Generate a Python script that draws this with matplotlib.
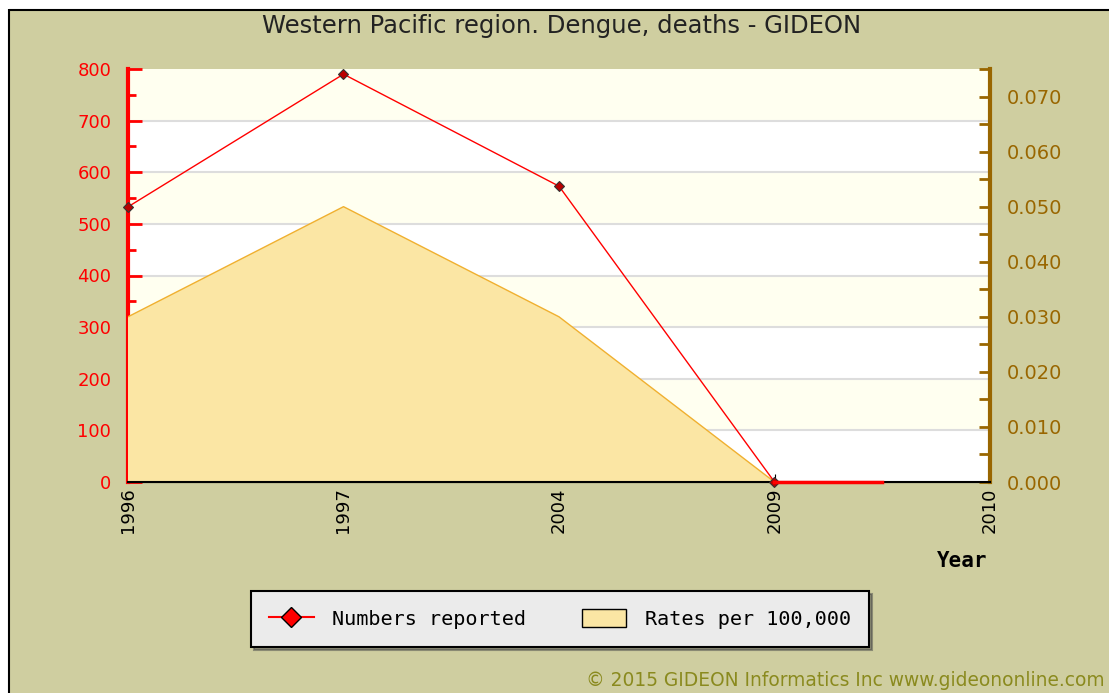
import matplotlib
matplotlib.use("Agg")
import matplotlib.pyplot as plt
from matplotlib.lines import Line2D
from matplotlib.patches import Patch, Rectangle

years = ["1996", "1997", "2004", "2009", "2010"]
numbers_reported = [533, 790, 573, 0]
rates_per_100k = [0.030, 0.050, 0.030, 0.0]
tail_pos = [3, 3.5]
tail_vals = [0, 0]

BG = "#cfcea0"
RED = "#ff0000"
BROWN = "#996600"

W, H = 1109, 693
fig = plt.figure(figsize=(W / 100, H / 100), dpi=100)
fig.patch.set_facecolor(BG)
fig.patch.set_linewidth(0)
# white margin at top and left, with black border line
fig.add_artist(Rectangle((0, 1 - 9 / H), 1, 9 / H, transform=fig.transFigure,
                         facecolor="white", edgecolor="none", lw=0, zorder=-5))
fig.add_artist(Rectangle((0, 0), 8 / W, 1, transform=fig.transFigure,
                         facecolor="white", edgecolor="none", lw=0, zorder=-5))
fig.add_artist(Line2D([9 / W, 9 / W], [0, 1 - 9 / H], color="black", lw=1.5,
                      solid_capstyle="butt", transform=fig.transFigure))
fig.add_artist(Line2D([9 / W, 1.01], [1 - 10 / H, 1 - 10 / H], color="black", lw=1.5,
                      solid_capstyle="butt", transform=fig.transFigure))

ax = fig.add_axes([128 / W, 211 / H, 862 / W, 413 / H])
ax.set_facecolor("white")
x = list(range(len(years)))

# alternating background bands
for lo in range(0, 800, 100):
    if (lo // 100) % 2 == 1:
        ax.axhspan(lo, lo + 100, color="#fffff0", zorder=0, lw=0)
for g in range(100, 800, 100):
    ax.axhline(g, color="#dddddd", lw=1.5, zorder=0.5)

ax.set_xlim(0, 4)
ax.set_ylim(0, 800)

ax2 = ax.twinx()
ax2.set_ylim(0, 0.075)
ax2.fill_between(x[:len(rates_per_100k)], rates_per_100k, 0, color="#fbe6a4",
                 edgecolor="none", zorder=1)
ax2.plot(x[:len(rates_per_100k)], rates_per_100k, color="#f0b030", lw=1, zorder=2)

# numbers on top
ax3 = ax.twinx()
ax3.set_ylim(0, 800)
ax3.axis("off")
ax3.plot(x[:len(numbers_reported)], numbers_reported, color=RED, lw=1, zorder=3,
         marker="D", ms=5, mfc="#bb0000", mec="#333333", mew=0.8, clip_on=False)
ax3.plot(tail_pos, tail_vals, color=RED, lw=2.5, zorder=3, clip_on=False)

ax.set_xticks(x)
ax.set_xticklabels(years, rotation=90, fontsize=13)
ax.tick_params(axis="x", direction="in", length=6, color="black", pad=4)

ax.set_yticks(range(0, 801, 100))
ax.set_yticks(range(50, 800, 100), minor=True)
ax.tick_params(axis="y", which="both", direction="in", colors=RED, labelsize=13, pad=12)
ax.tick_params(axis="y", which="major", length=10, width=2)
ax.tick_params(axis="y", which="minor", length=6, width=2)

ax2.set_yticks([i * 0.01 for i in range(8)])
ax2.set_yticks([0.005 + i * 0.01 for i in range(8)], minor=True)
ax2.set_yticklabels(["%.3f" % (i * 0.01) for i in range(8)])
ax2.tick_params(axis="y", which="both", direction="in", colors=BROWN, labelsize=14,
                pad=12, length=8, width=2)

for a in (ax, ax2):
    a.spines["top"].set_visible(False)
ax.spines["left"].set_color(RED)
ax.spines["left"].set_linewidth(3)
ax.spines["right"].set_visible(False)
ax2.spines["left"].set_visible(False)
ax2.spines["right"].set_color(BROWN)
ax2.spines["right"].set_linewidth(3)
ax2.spines["bottom"].set_color("black")
ax2.spines["bottom"].set_linewidth(1.5)

fig.text(562 / W, 1 - 26 / H, "Western Pacific region. Dengue, deaths - GIDEON",
         ha="center", va="center", fontsize=17.5, color="#222222")
fig.text(962 / W, 1 - 561 / H, "Year", ha="center", va="center",
         fontsize=15, fontweight="bold", family="DejaVu Sans Mono")
fig.text(1105 / W, 1 - 681 / H, "© 2015 GIDEON Informatics Inc www.gideononline.com",
         ha="right", va="center", fontsize=13.4, color="#8a8a1e")

handles = [
    Line2D([], [], color=RED, lw=1.5, marker="D", ms=10, mfc=RED, mec="black", mew=1),
    Patch(facecolor="#fbe6a4", edgecolor="black", lw=1),
]
leg = fig.legend(handles, ["Numbers reported", "Rates per 100,000"], ncol=2,
                 loc="center", bbox_to_anchor=(560 / W, 1 - 619 / H),
                 prop={"family": "DejaVu Sans Mono", "size": 14.5}, frameon=True,
                 fancybox=False, shadow=True, borderpad=0.9, borderaxespad=0,
                 columnspacing=2.8, handlelength=2.2, handleheight=1.0,
                 handletextpad=0.9)
leg.get_frame().set_facecolor("#ebebeb")
leg.get_frame().set_edgecolor("black")
leg.get_frame().set_linewidth(1.5)

fig.savefig("out.png", dpi=100, facecolor=fig.get_facecolor())
